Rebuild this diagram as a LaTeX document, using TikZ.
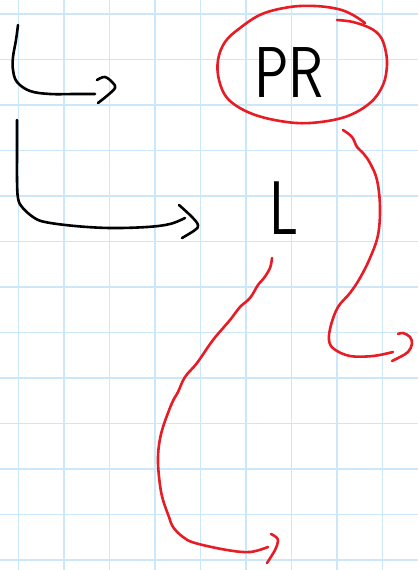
\documentclass[tikz,border=0pt]{standalone}
\definecolor{gridblue}{RGB}{204,230,250}
\definecolor{penred}{RGB}{232,28,36}
\tikzset{
  gridline/.style={gridblue, line width=1.3pt},
  ink/.style={black, line width=2.6pt, line cap=round, line join=round},
  redink/.style={penred, line width=2.6pt, line cap=round, line join=round},
  hand/.style={font=\fontsize{72}{72}\selectfont\sffamily, inner sep=0pt}
}
\begin{document}
\begin{tikzpicture}[x=1pt,y=-1pt]
\useasboundingbox (0,0) rectangle (418,570);
\fill[white] (0,0) rectangle (418,570);
% grid
\foreach \k in {0,...,8} {\draw[gridline] ({18.5+45.5*\k},0) -- ({18.5+45.5*\k},570);}
\foreach \k in {0,...,12} {\draw[gridline] (0,{14+45.5*\k}) -- (418,{14+45.5*\k});}
% black arrow 1
\draw[ink] plot[smooth, tension=0.6] coordinates {(18,25) (16,40) (13,57) (13,70) (17,82) (30,91) (50,94) (75,94) (95,94)};
\draw[ink] plot[smooth, tension=0.6] coordinates {(97,80) (105,77) (113,83) (115,88) (108,95) (98,103)};
% black arrow 2
\draw[ink] plot[smooth, tension=0.6] coordinates {(17,120) (17,150) (17,180) (18,198) (22,207) (33,217) (45,222) (75,226) (110,228) (147,227) (170,224) (185,218)};
\draw[ink] plot[smooth, tension=0.6] coordinates {(179,205) (192,217) (198,225) (195,230) (182,238)};
% texts
\node[hand, xscale=0.8] (pr) at (289,73) {PR};
\node[hand, xscale=0.75, font=\fontsize{76}{76}\selectfont\sffamily] (l) at (284,208) {L};
% red ellipse
\draw[redink] plot[smooth, tension=0.6] coordinates {(337,20) (353,22) (370,28) (380,36) (385,48) (387,65) (383,85) (370,103) (345,117) (310,123) (280,121) (250,113) (228,99) (219,80) (218,60) (225,42) (240,28) (262,14) (290,7) (315,6) (338,9) (353,15) (365,23)};
% red arrow right
\draw[redink] plot[smooth, tension=0.6] coordinates {(343,130) (352,137) (357,147) (363,153) (370,163) (377,180) (380,207) (378,235) (370,258) (360,278) (350,293) (338,307) (331,325) (329,340) (334,349) (350,356) (373,356) (393,352)};
\draw[redink] plot[smooth, tension=0.6] coordinates {(398,334) (403,333) (410,337) (412,344) (408,352) (400,357) (392,361)};
% red long arrow
\draw[redink] plot[smooth, tension=0.6] coordinates {(272,258) (270,268) (264,278) (258,285) (250,298) (240,307) (230,320) (213,340) (197,363) (185,377) (178,392) (172,403) (163,427) (159,445) (158,463) (160,485) (163,500) (169,517) (173,527) (183,537) (195,543) (227,550) (250,552) (268,547)};
\draw[redink] plot[smooth, tension=0.6] coordinates {(271,534) (276,537) (278,541) (275,550) (267,563)};
\end{tikzpicture}
\end{document}
